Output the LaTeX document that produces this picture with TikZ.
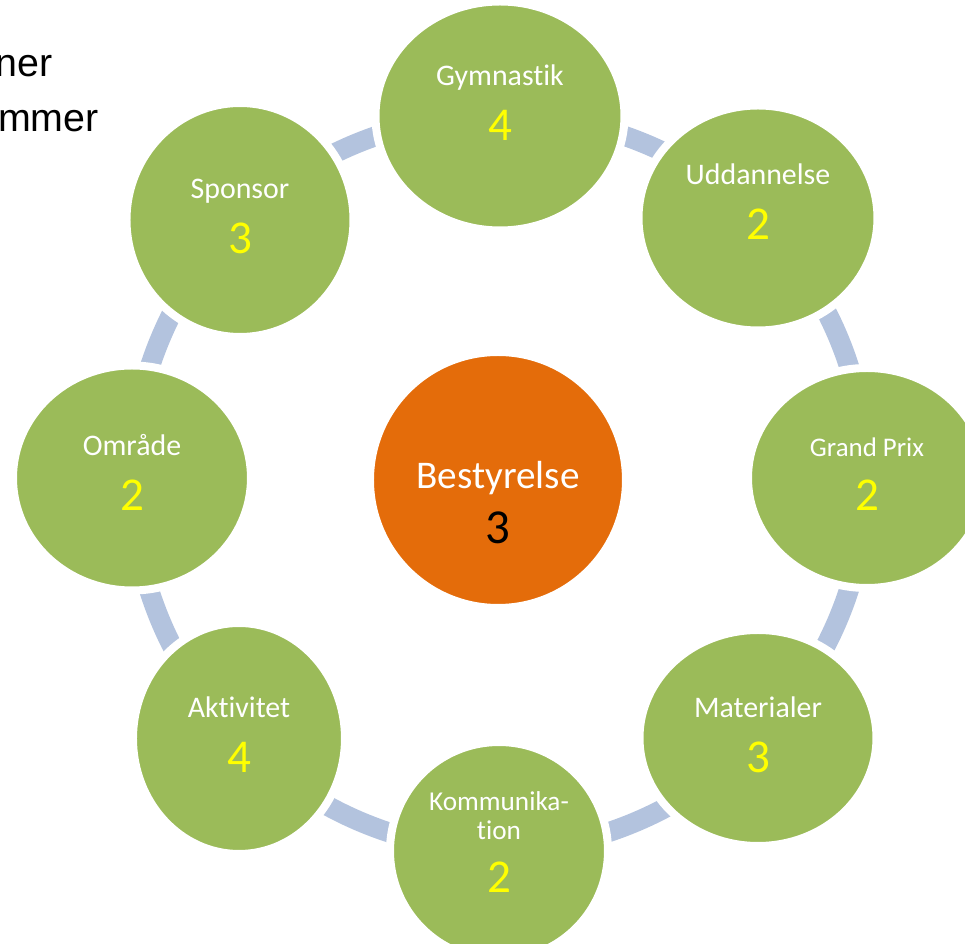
\documentclass[tikz,border=0pt]{standalone}
\usepackage{fontspec}
\setmainfont{Carlito}[Ligatures={NoCommon,NoContextual}]
\newfontfamily\notefont{Liberation Sans}
\usetikzlibrary{shapes.geometric, backgrounds}
\definecolor{clubgreen}{RGB}{155, 187, 89}
\definecolor{boardorange}{RGB}{228, 108, 10}
\definecolor{linkblue}{RGB}{179, 195, 222}
\definecolor{scoreyellow}{RGB}{255, 255, 0}
\newcommand{\score}[1]{{\fontsize{26.8}{31.7}\selectfont\color{scoreyellow}#1}}

\begin{document}
\begin{tikzpicture}[
    club/.style={ellipse, draw=white, line width=0.16cm, fill=clubgreen, text=white, align=center, font=\fontsize{17}{31.7}\selectfont, text depth=0pt},
    board/.style={ellipse, draw=white, line width=0.16cm, fill=boardorange, text=white, align=center, font=\fontsize{22.3}{31.7}\selectfont, text height=72.6pt, text depth=0pt, minimum size=5.12cm},
    link/.style={linkblue, line width=0.4cm, bend left=22.5, looseness=0.885},
    note/.style={anchor=base east, inner sep=0pt, font=\notefont\fontsize{22.4}{26}\selectfont}
]

% Frame
\useasboundingbox (-10,-9.24) rectangle (9.3,9.64);
\clip (-10,-9.24) rectangle (9.3,9.64);

% Cut-off heading
\node[note] (note1) at (-8.94,8.10) {ner};
\node[note] (note2) at (-8.02,7.00) {mmer};

% Board in the middle
\node[board] (bes) at (-0.04,0.04) {Bestyrelse\\{\fontsize{27.8}{31.7}\selectfont\color{black}3}};

% Committees round the board
\node[club, text height=28.2pt, minimum width=4.98cm, minimum height=4.58cm] (gym) at (0,7.32) {Gymnastik\\\score{4}};
\node[club, text height=24.8pt, minimum width=4.78cm, minimum height=4.50cm] (udd) at (5.16,5.28) {Uddannelse\\\score{2}};
\node[club, text height=37.4pt, minimum width=4.76cm, minimum height=4.40cm, font=\fontsize{15.3}{31.2}\selectfont] (gp) at (7.34,0.08) {Grand Prix\\\score{2}};
\node[club, text height=39.6pt, minimum width=4.74cm, minimum height=4.32cm] (mat) at (5.16,-5.12) {Materialer\\\score{3}};
\node[club, text height=47.6pt, minimum width=4.36cm, minimum height=4.36cm, font=\fontsize{15.5}{31.7}\selectfont] (kom) at (-0.02,-7.38) {Kommunika-\\[-15.3pt]tion\\[-1.1pt]\score{2}};
\node[club, text height=39pt, minimum width=4.24cm, minimum height=4.62cm] (akt) at (-5.22,-5.13) {Aktivitet\\\score{4}};
\node[club, text height=37.4pt, minimum width=4.76cm, minimum height=4.50cm] (omr) at (-7.36,0.08) {Område\\\score{2}};
\node[club, text height=38.4pt, minimum width=4.54cm, minimum height=4.68cm] (spo) at (-5.20,5.24) {Sponsor\\\score{3}};

% Ring of links behind the circles
\begin{scope}[on background layer]
\draw[link] (gym.center) to (udd.center);
\draw[link] (udd.center) to (gp.center);
\draw[link] (gp.center) to (mat.center);
\draw[link] (mat.center) to (kom.center);
\draw[link] (kom.center) to (akt.center);
\draw[link] (akt.center) to (omr.center);
\draw[link] (omr.center) to (spo.center);
\draw[link] (spo.center) to (gym.center);
\end{scope}

\end{tikzpicture}
\end{document}
